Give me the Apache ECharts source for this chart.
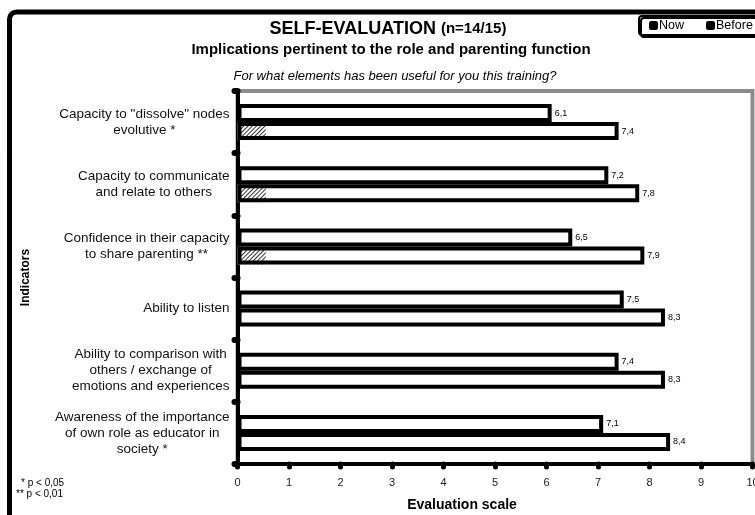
<!DOCTYPE html>
<html>
<head>
<meta charset="utf-8">
<script src="https://cdn.jsdelivr.net/npm/echarts@6/dist/echarts.min.js"></script>
<style>
  html, body { margin: 0; padding: 0; background: #fff; }
  #chart { width: 755px; height: 515px; }
</style>
</head>
<body>
<div id="chart"></div>
<script>
// Indicators, top to bottom
const categories = [
  'Capacity to "dissolve" nodes\nevolutive *',
  'Capacity to communicate\nand relate to others',
  'Confidence in their capacity\nto share parenting **',
  'Ability to listen',
  'Ability to comparison with\nothers / exchange of\nemotions and experiences',
  'Awareness of the importance\nof own role as educator in\nsociety *'
];
const beforeValues = [6.1, 7.2, 6.5, 7.5, 7.4, 7.1];
const nowValues    = [7.4, 7.8, 7.9, 8.3, 8.3, 8.4];
// small hatched segment at the base of the "Now" bar
const hatchValues  = [0.55, 0.55, 0.55, '-', '-', '-'];
const padValues    = ['-', '-', '-', '-', '-', '-'];
const scaleMin = 0, scaleMax = 10, scaleStep = 1;

const FONT = '"Liberation Sans", Arial, sans-serif';
const comma = v => String(v).replace('.', ',');

const chart = echarts.init(document.getElementById('chart'), null, { renderer: 'canvas' });

const barCommon = {
  type: 'bar',
  barWidth: 18,
  barGap: '0%',
  itemStyle: { color: '#fff', borderColor: '#000', borderWidth: 4 },
  label: {
    show: true, position: 'right', distance: 3,
    fontFamily: FONT, fontSize: 9, color: '#000',
    formatter: p => comma(p.value)
  },
  z: 3
};

chart.setOption({
  animation: false,
  backgroundColor: '#fff',
  title: [
    {
      text: '{a|SELF-EVALUATION} {b|(n=14/15)}',
      left: 383, top: 15, textAlign: 'center',
      textStyle: {
        rich: {
          a: { fontFamily: FONT, fontSize: 18, fontWeight: 'bold', color: '#000' },
          b: { fontFamily: FONT, fontSize: 15, fontWeight: 'bold', color: '#000' }
        }
      }
    },
    {
      text: 'Implications pertinent to the role and parenting function',
      left: 386, top: 37, textAlign: 'center',
      textStyle: { fontFamily: FONT, fontSize: 15, fontWeight: 'bold', color: '#000' }
    },
    {
      text: 'For what elements has been useful for you this training?',
      left: 390, top: 65, textAlign: 'center',
      textStyle: { fontFamily: FONT, fontSize: 13, fontStyle: 'italic', fontWeight: 'normal', color: '#000' }
    }
  ],
  legend: {
    data: [
      { name: 'Now', itemStyle: { color: '#000', borderWidth: 0 } },
      { name: 'Before', itemStyle: { color: '#000', borderWidth: 0 } }
    ],
    orient: 'horizontal',
    left: 639, top: 16, width: 200,
    icon: 'roundRect',
    itemWidth: 9, itemHeight: 9, itemGap: 22,
    padding: [3, 10, 3, 10],
    backgroundColor: '#fff',
    borderColor: '#000', borderWidth: 2, borderRadius: 3,
    shadowColor: '#000', shadowBlur: 0, shadowOffsetX: 2, shadowOffsetY: 2,
    textStyle: { fontFamily: FONT, fontSize: 12.5, color: '#000', padding: [0, 0, 0, -4] }
  },
  grid: {
    left: 237.5, right: 2.5, top: 91, bottom: 51,
    outerBoundsMode: 'none', containLabel: false,
    show: true, borderColor: '#8c8c8c', borderWidth: 4, backgroundColor: '#fff'
  },
  xAxis: {
    type: 'value', min: scaleMin, max: scaleMax, interval: scaleStep,
    name: 'Evaluation scale', nameLocation: 'middle', nameGap: 34,
    nameTextStyle: { fontFamily: FONT, fontSize: 14, fontWeight: 'bold', color: '#000', padding: [0, 66, 0, 0] },
    axisLine: { show: true, lineStyle: { color: '#000', width: 4 } },
    axisTick: { show: true, length: 3, lineStyle: { color: '#000', width: 5, cap: 'round' } },
    axisLabel: { fontFamily: FONT, fontSize: 11, color: '#222', margin: 13 },
    splitLine: { show: false }
  },
  yAxis: [
    {
      type: 'category', data: categories, inverse: true,
      name: 'Indicators', nameLocation: 'middle', nameGap: 206, nameRotate: 90,
      nameTextStyle: { fontFamily: FONT, fontSize: 12, fontWeight: 'bold', color: '#000' },
      axisLine: { show: true, lineStyle: { color: '#000', width: 4 } },
      axisTick: { show: true, length: 3, interval: 0, lineStyle: { color: '#000', width: 6, cap: 'round' } },
      axisLabel: {
        margin: 8, align: 'right',
        fontFamily: FONT, fontSize: 13.5, color: '#111', lineHeight: 16,
        formatter: v => v.split('\n').map(l => '{c|' + l + '}').join('\n'),
        rich: { c: { align: 'center', fontFamily: FONT, fontSize: 13.5, lineHeight: 16, color: '#111' } }
      },
      splitLine: { show: false }
    },
    {
      type: 'category', data: categories, inverse: true, show: false
    }
  ],
  series: [
    Object.assign({}, barCommon, { name: 'Before', data: beforeValues, yAxisIndex: 0 }),
    Object.assign({}, barCommon, {
      name: 'Now', data: nowValues, yAxisIndex: 0,
      itemStyle: { color: 'rgba(255,255,255,0)', borderColor: '#000', borderWidth: 4 }
    }),
    {
      type: 'bar', name: 'pad', data: padValues, yAxisIndex: 1,
      barWidth: 18, barGap: '0%', silent: true, z: 1
    },
    {
      type: 'bar', name: 'hatch', data: hatchValues, yAxisIndex: 1,
      barWidth: 18, barGap: '0%', silent: true, z: 1,
      itemStyle: {
        color: '#fff',
        decal: {
          symbol: 'rect', symbolSize: 1,
          color: '#333',
          dashArrayX: [1, 0],
          dashArrayY: [1, 1.5],
          rotation: -Math.PI / 4
        }
      }
    }
  ],
  graphic: [
    {
      type: 'rect', silent: true, z: 100,
      shape: { x: 9.5, y: 12, width: 800, height: 600, r: 7 },
      style: { fill: 'none', stroke: '#000', lineWidth: 5 }
    },
    {
      type: 'text', left: 21, top: 478, silent: true,
      style: { text: '* p < 0,05', font: '10px ' + FONT, fill: '#000' }
    },
    {
      type: 'text', left: 16, top: 489, silent: true,
      style: { text: '** p < 0,01', font: '10px ' + FONT, fill: '#000' }
    }
  ]
});
</script>
</body>
</html>
